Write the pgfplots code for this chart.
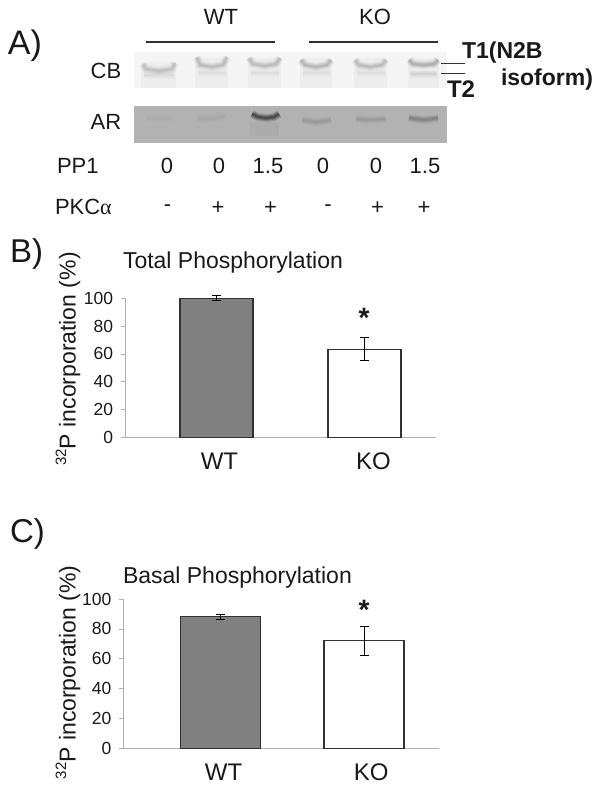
\documentclass[border=0pt]{standalone}
\usepackage{pgfplots}
\pgfplotsset{compat=1.18}
\usepackage{fontspec}
\setmainfont{Liberation Sans}
\newcommand{\fs}[1]{\fontsize{#1}{#1}\selectfont}
\definecolor{barGray}{RGB}{128,128,128}
\definecolor{edge}{RGB}{50,50,50}
\definecolor{axisGray}{RGB}{175,175,175}
\definecolor{txt}{RGB}{25,25,25}

% soft gel band: stacked translucent strokes (colour, strength, points)
\newcommand{\band}[3]{%
  \addplot[draw=#1,line width=8pt,opacity=0.07*#2] coordinates {#3};
  \addplot[draw=#1,line width=6pt,opacity=0.09*#2] coordinates {#3};
  \addplot[draw=#1,line width=4pt,opacity=0.12*#2] coordinates {#3};
  \addplot[draw=#1,line width=2.2pt,opacity=0.14*#2] coordinates {#3};
}
% lighter lane smear under a band
\newcommand{\lane}[5]{%
  \addplot[fill=black,draw=none,opacity=#5] coordinates {(#1,#3) (#2,#3) (#2,#4) (#1,#4)} --cycle;
}

\pgfplotsset{
  barpanel/.style={
    scale only axis,
    anchor=south west,
    axis x line=bottom,
    axis y line=left,
    axis line style={-,draw=axisGray,line width=0.8pt},
    ymin=0, ymax=100,
    ytick={0,20,40,60,80,100},
    ytick align=outside,
    major tick length=4pt,
    tick style={draw=axisGray,line width=0.8pt},
    x tick style={draw=none},
    /pgf/number format/assume math mode=true,
    yticklabel style={font=\fs{17.5},text=txt,xshift=-8pt},
    xticklabel style={font=\fs{24},text=txt,anchor=base,yshift=-28pt},
    xticklabels={WT,KO},
    clip=false,
    ybar,
    bar shift=0pt,
  },
  wtbar/.style={fill=barGray,draw=edge,line width=1.3pt,
    error bars/.cd,y dir=both,y explicit,
    error bar style={draw=black,line width=0.9pt},
    error mark options={rotate=90,mark size=4.5pt,draw=black,line width=0.9pt}},
  kobar/.style={fill=white,draw=edge,line width=1.3pt,
    error bars/.cd,y dir=both,y explicit,
    error bar style={draw=black,line width=0.9pt},
    error mark options={rotate=90,mark size=4.5pt,draw=black,line width=0.9pt}},
}

\begin{document}
\begin{tikzpicture}[every node/.style={text=txt,inner sep=0pt,outer sep=0pt}]
\path[use as bounding box] (0pt,0pt) rectangle (601pt,-791pt);

% Panel A: gels, in picture pixels
\begin{axis}[
    at={(0pt,-791pt)}, anchor=south west,
    scale only axis, width=601pt, height=791pt,
    xmin=0, xmax=601, ymin=0, ymax=791, y dir=reverse,
    hide axis, clip=false,
]
  \addplot[fill=black!4,draw=none] coordinates {(134,52) (446.5,52) (446.5,88) (134,88)} --cycle;
  \addplot[fill=black!30,draw=none] coordinates {(134,106) (446.5,106) (446.5,143) (134,143)} --cycle;

  % CB lanes
  \lane{141}{176}{62}{88}{0.03}
  \lane{195}{228}{58}{88}{0.03}
  \lane{248}{281}{58}{88}{0.03}
  \lane{300}{332}{58}{88}{0.03}
  \lane{354}{387}{58}{88}{0.03}
  \lane{408}{439}{58}{88}{0.03}
  % CB upper band with raised lane edges
  \band{black!70}{0.7}{(143,64) (146,69) (160,71) (172,69) (175,63)}
  \band{black!70}{0.75}{(197,57) (200,65) (212,67) (223,65) (227,57)}
  \band{black!70}{0.75}{(249,58) (253,64) (265,66) (276,64) (280,58)}
  \band{black!70}{0.85}{(301,60) (305,65) (316,67) (327,65) (331,60)}
  \band{black!70}{0.75}{(355,60) (359,65) (370,67) (382,65) (386,60)}
  \band{black!70}{1}{(409,60) (413,64) (424,65) (434,64) (438,60)}
  % CB lower band
  \band{black!50}{0.4}{(144,75) (158,75) (174,75)}
  \band{black!50}{0.3}{(198,73) (212,73) (226,73)}
  \band{black!50}{0.3}{(251,73) (265,73) (279,73)}
  \band{black!50}{0.3}{(303,73) (316,73) (330,73)}
  \band{black!50}{0.3}{(357,73) (370,73) (385,73)}
  \band{black!50}{0.55}{(410,74) (424,74) (437,74)}

  % AR lanes and bands
  \lane{250}{279}{122}{136}{0.03}
  \band{black!60}{0.12}{(146,118) (158,119) (172,118)}
  \band{black!60}{0.25}{(197,119) (212,119) (226,116)}
  \band{black}{1.8}{(252,114) (258,117) (266,118) (274,117) (279,114)}
  \band{black!70}{0.55}{(302,120) (316,122) (331,120)}
  \band{black!70}{0.55}{(356,119) (370,120) (386,119)}
  \band{black!80}{0.95}{(409,118) (424,120) (438,118)}

  % group and band marker lines
  \addplot[draw=edge,line width=1.2pt] coordinates {(145.5,42) (275,42)};
  \addplot[draw=edge,line width=1.2pt] coordinates {(309,42) (438,42)};
  \addplot[draw=edge,line width=1pt] coordinates {(441,63.3) (464.5,63.3)};
  \addplot[draw=edge,line width=1pt] coordinates {(441,73.7) (464.5,73.7)};
\end{axis}

% Panel B
\begin{axis}[
    barpanel,
    at={(125pt,-437.3pt)},
    width=311pt, height=139pt,
    xmin=-0.618, xmax=1.483,
    xtick={0.02,1.06},
    bar width=73pt,
]
  \addplot[wtbar] coordinates {(0,100) +- (0,1.7)};
  \addplot[kobar] coordinates {(1,63.3) +- (0,8.3)};
\end{axis}

% Panel C
\begin{axis}[
    barpanel,
    at={(123.3pt,-748.7pt)},
    width=316pt, height=149.7pt,
    xmin=-0.680, xmax=1.525,
    xtick={0.02,1.05},
    bar width=80pt,
]
  \addplot[wtbar] coordinates {(0,88.2) +- (0,1.6)};
  \addplot[kobar] coordinates {(1,72.2) +- (0,9.6)};
\end{axis}

\begin{scope}[x=1pt,y=-1pt]
\node[font=\fs{34},anchor=base west] at (8,55) {A)};
\node[font=\fs{22}] at (221,17) {WT};
\node[font=\fs{22}] at (375,17) {KO};
\node[font=\fs{22}] at (106,71) {CB};
\node[font=\fs{22}] at (106,122) {AR};
\node[font=\fs{22},anchor=west] at (57,166) {PP1};
\node[font=\fs{22},anchor=west] at (55,207) {PKC{\fontspec{Liberation Serif}α}};
\foreach \x/\t in {167/0,219/0,268/1.5,323/0,376/0,425/1.5}
  \node[font=\fs{22}] at (\x,166) {\t};
\foreach \x/\t in {167.5/-,218/+,270.6/+,328/-,377.5/+,424/+}
  \node[font=\fs{22}] at (\x,208) {\t};
\node[font=\fs{23}\bfseries,anchor=west] at (462,53) {T1(N2B};
\node[font=\fs{23}\bfseries,anchor=west] at (501,80) {isoform)};
\node[font=\fs{24}\bfseries,anchor=west] at (447,89) {T2};

\node[font=\fs{23},anchor=base west] at (123,269) {Total Phosphorylation};
\node[font=\fs{33},anchor=base west] at (10,262) {B)};
\node[rotate=90,font=\fs{23}] at (68,359) {\raisebox{0.42em}{\fs{15}32}P incorporation (\%)};
\node[font=\fs{28}\bfseries] at (364,318) {*};

\node[font=\fs{23},anchor=base west] at (123,583) {Basal Phosphorylation};
\node[font=\fs{33},anchor=base west] at (10,542) {C)};
\node[rotate=90,font=\fs{23}] at (68,672.5) {\raisebox{0.42em}{\fs{15}32}P incorporation (\%)};
\node[font=\fs{28}\bfseries] at (364,610) {*};
\end{scope}
\end{tikzpicture}
\end{document}
